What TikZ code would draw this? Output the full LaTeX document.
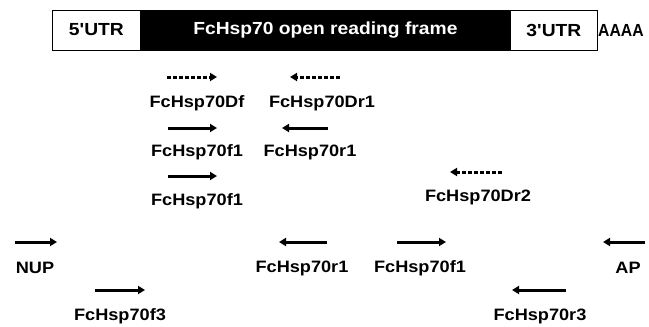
\documentclass[tikz,border=0pt]{standalone}
\usepackage{fontspec}
\setmainfont{Liberation Sans}
\usetikzlibrary{arrows.meta}
\newcommand{\wlab}[1]{\scalebox{1.1}[1]{\bfseries #1}}
\tikzset{
  primer/.style={line width=3pt,-{Triangle[length=7pt,width=8pt]}},
  dprimer/.style={primer,dash pattern=on 4pt off 2pt},
  lab/.style={inner sep=0pt,font=\fontsize{16.5}{16.5}\selectfont},
  cell/.style={draw,line width=0.8pt,minimum height=40pt,inner sep=0pt,font=\fontsize{17.5}{17.5}\selectfont},
}
\begin{document}
\begin{tikzpicture}[x=1pt,y=-1pt]
\useasboundingbox (0,0) rectangle (649,327);
% mRNA: 5'UTR, open reading frame, 3'UTR
\node[cell,minimum width=88pt,anchor=west] (u5) at (52,30) {\wlab{5\textquotesingle UTR}};
\node[cell,fill=black,minimum width=370pt,anchor=west,text=white] (orf) at (140,30) {\wlab{FcHsp70 open reading frame}};
\node[cell,minimum width=87pt,anchor=west] (u3) at (510,30) {\wlab{3\textquotesingle UTR}};
\node[inner sep=0pt,anchor=west,font=\fontsize{17.5}{17.5}\selectfont\bfseries] (pa) at (598,30) {\scalebox{0.9}[1]{AAAA}};
% primers: start and end points
\coordinate (dfa) at (167,77);  \coordinate (dfb) at (217,77);
\coordinate (dr1a) at (340,77); \coordinate (dr1b) at (290,77);
\coordinate (f1a) at (168,128); \coordinate (f1b) at (217,128);
\coordinate (r1a) at (328,128); \coordinate (r1b) at (282,128);
\coordinate (f1c) at (168,176); \coordinate (f1d) at (217,176);
\coordinate (dr2a) at (502,172); \coordinate (dr2b) at (450,172);
\coordinate (nupa) at (15,242); \coordinate (nupb) at (57,242);
\coordinate (r1c) at (327,242); \coordinate (r1d) at (279,242);
\coordinate (f1e) at (397,242); \coordinate (f1f) at (446,242);
\coordinate (apa) at (645,242); \coordinate (apb) at (603,242);
\coordinate (f3a) at (95,290); \coordinate (f3b) at (145,290);
\coordinate (r3a) at (566,290); \coordinate (r3b) at (512,290);
\draw[dprimer] (dfa) -- (dfb);
\draw[dprimer] (dr1a) -- (dr1b);
\draw[primer] (f1a) -- (f1b);
\draw[primer] (r1a) -- (r1b);
\draw[primer] (f1c) -- (f1d);
\draw[dprimer] (dr2a) -- (dr2b);
\draw[primer] (nupa) -- (nupb);
\draw[primer] (r1c) -- (r1d);
\draw[primer] (f1e) -- (f1f);
\draw[primer] (apa) -- (apb);
\draw[primer] (f3a) -- (f3b);
\draw[primer] (r3a) -- (r3b);
% primer names
\node[lab] (ldf) at (197,103) {\wlab{FcHsp70Df}};
\node[lab] (ldr1) at (322,103) {\wlab{FcHsp70Dr1}};
\node[lab] (lf1) at (197,152) {\wlab{FcHsp70f1}};
\node[lab] (lr1) at (310,152) {\wlab{FcHsp70r1}};
\node[lab] (lf1b) at (197,201) {\wlab{FcHsp70f1}};
\node[lab] (ldr2) at (478,197) {\wlab{FcHsp70Dr2}};
\node[lab] (lnup) at (35,268) {\wlab{NUP}};
\node[lab] (lr1b) at (302,268) {\wlab{FcHsp70r1}};
\node[lab] (lf1c) at (420,268) {\wlab{FcHsp70f1}};
\node[lab] (lap) at (628,268) {\wlab{AP}};
\node[lab] (lf3) at (120,316) {\wlab{FcHsp70f3}};
\node[lab] (lr3) at (540,316) {\wlab{FcHsp70r3}};
\end{tikzpicture}
\end{document}
